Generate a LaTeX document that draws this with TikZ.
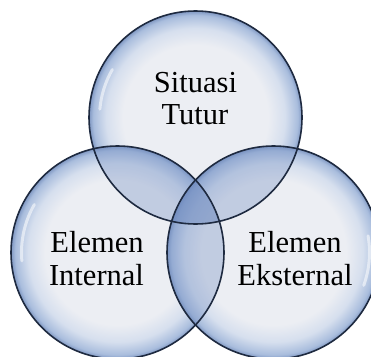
\documentclass[tikz,border=0pt]{standalone}
\usepackage{fontspec}
\setmainfont{Liberation Serif}
\definecolor{bubin}{HTML}{ECEEF3}
\definecolor{bubmid}{HTML}{D6DFEE}
\definecolor{bubrim}{HTML}{A9BDDD}
\definecolor{bubedge}{HTML}{7F97C2}
\definecolor{bubline}{HTML}{1E2A40}
\definecolor{lensc}{HTML}{6F8BC0}
\pgfdeclareradialshading{bubble}{\pgfpoint{0bp}{0bp}}{color(0bp)=(bubin); color(17bp)=(bubin); color(21bp)=(bubmid); color(24bp)=(bubrim); color(25bp)=(bubedge); color(50bp)=(bubedge)}
\tikzset{
  bub/.style={shading=bubble},
  rim/.style={draw=bubline, line width=1.6pt},
  lens/.style={fill=lensc, fill opacity=0.34},
  glint/.style={draw=white, line width=3pt, opacity=0.55, line cap=round},
  lbl/.style={font=\fontsize{30.5}{34}\selectfont, anchor=base, inner sep=0pt, text=black}
}
\begin{document}
\begin{tikzpicture}[x=1pt,y=-1pt]
\useasboundingbox (0,0) rectangle (371,356);
\clip (0,0) rectangle (371,356);
\fill[white] (0,0) rectangle (371,356);
\coordinate (T) at (195.5,117.5);
\coordinate (L) at (117.5,252.5);
\coordinate (R) at (273.5,252.5);
% bubbles
\shade[bub] (T) circle[radius=106.5pt];
\shade[bub] (L) circle[radius=106.5pt];
\shade[bub] (R) circle[radius=106.5pt];
% overlaps
\begin{scope}
  \clip (T) circle[radius=106.5pt];
  \fill[lens] (L) circle[radius=106.5pt];
  \fill[lens] (R) circle[radius=106.5pt];
\end{scope}
\begin{scope}
  \clip (L) circle[radius=106.5pt];
  \fill[lens] (R) circle[radius=106.5pt];
\end{scope}
% soft highlights
\draw[glint] ([shift={(150:96pt)}]T) arc[start angle=150, end angle=175, radius=96pt];
\draw[glint] ([shift={(150:96pt)}]L) arc[start angle=150, end angle=185, radius=96pt];
\draw[glint] ([shift={(-20:96pt)}]R) arc[start angle=-20, end angle=10, radius=96pt];
% outlines
\draw[rim] (T) circle[radius=106.5pt];
\draw[rim] (L) circle[radius=106.5pt];
\draw[rim] (R) circle[radius=106.5pt];
% labels
\node[lbl] (t1) at (195.5,92) {Situasi};
\node[lbl] (t2) at (195,124) {Tutur};
\node[lbl] (l1) at (97,252) {Elemen};
\node[lbl] (l2) at (96.5,285) {Internal};
\node[lbl] (r1) at (295,252) {Elemen};
\node[lbl] (r2) at (295,285) {Eksternal};
\end{tikzpicture}
\end{document}
